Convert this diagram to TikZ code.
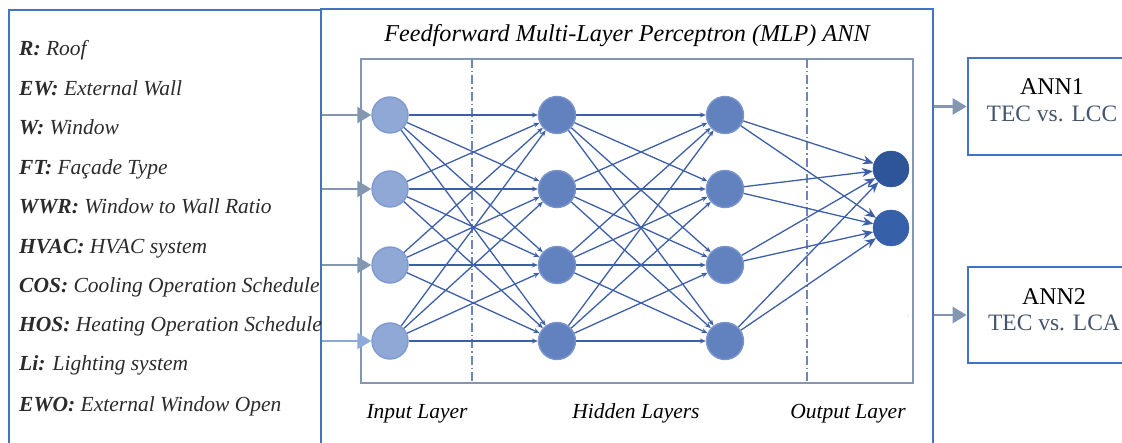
\documentclass[tikz,border=0pt]{standalone}
\usepackage{fontspec}
\setmainfont{Liberation Serif}[
  UprightFont={Liberation Serif},
  BoldFont={Liberation Serif Bold},
  ItalicFont={Liberation Serif Italic},
  BoldItalicFont={Liberation Serif Bold Italic}]
\usetikzlibrary{arrows.meta}

\definecolor{boxblue}{HTML}{4472C4}
\definecolor{framegray}{HTML}{8497B0}
\definecolor{feedlight}{HTML}{8EAADB}
\definecolor{inputfill}{HTML}{8FA8D6}
\definecolor{inputline}{HTML}{7F9ACF}
\definecolor{hiddenfill}{HTML}{6282BF}
\definecolor{hiddenline}{HTML}{7A95CB}
\definecolor{outfillA}{HTML}{2E5597}
\definecolor{outfillB}{HTML}{3660A8}
\definecolor{wire}{HTML}{3D5FA8}
\definecolor{divider}{HTML}{6E86BE}
\definecolor{slate}{HTML}{44546A}
\definecolor{desc}{HTML}{2B2B2B}

\tikzset{
  panel/.style={draw=boxblue, line width=2.6pt, inner sep=0pt},
  netframe/.style={draw=framegray, line width=1.6pt},
  neuronin/.style={circle, minimum size=36pt, inner sep=0pt, fill=inputfill, draw=inputline, line width=1.4pt},
  neuronhid/.style={circle, minimum size=37pt, inner sep=0pt, fill=hiddenfill, draw=hiddenline, line width=1.4pt},
  neuronout/.style={circle, minimum size=36pt, inner sep=0pt, draw=#1, fill=#1},
  wirehid/.style={draw=wire, line width=1.3pt, -{Stealth[length=6pt,width=5pt]}},
  wireout/.style={draw=wire, line width=1.3pt, -{Stealth[length=11pt,width=9pt]}},
  feed/.style={draw=#1, line width=2.6pt, -{Triangle[length=14pt,width=16pt]}},
  divline/.style={draw=divider, line width=1.5pt, dash pattern=on 9pt off 3pt on 1.5pt off 3pt},
  varline/.style={anchor=base west, font=\fontsize{21.5}{24}\selectfont\itshape, text=desc, inner sep=0pt},
  layerlabel/.style={anchor=base, font=\fontsize{21.5}{24}\selectfont\itshape, inner sep=0pt},
  annname/.style={anchor=base, font=\fontsize{24}{26}\selectfont, inner sep=0pt},
  anncomp/.style={anchor=base, font=\fontsize{23.5}{26}\selectfont, text=slate, inner sep=0pt},
}

\begin{document}
\begin{tikzpicture}[x=1pt, y=-1pt]
\useasboundingbox (0,0) rectangle (1122,443);
\clip (0,0) rectangle (1122,443);

% outer panels
\node[panel, minimum width=312pt, minimum height=434pt] (inbox) at (165,227) {};
\node[panel, minimum width=612pt, minimum height=435pt] (mlp) at (627,226.5) {};
\node[panel, minimum width=175pt, minimum height=97pt] (ann1) at (1055.5,106.5) {};
\node[panel, minimum width=175pt, minimum height=96pt] (ann2) at (1055.5,315) {};

% input variables
\node[varline] (v1)  at (19,56)  {\textbf{R:} Roof};
\node[varline] (v2)  at (19,96)  {\textbf{EW:} External Wall};
\node[varline] (v3)  at (19,135) {\textbf{W:} Window};
\node[varline] (v4)  at (19,175) {\textbf{FT:} Façade Type};
\node[varline] (v5)  at (19,214) {\textbf{WWR:} Window to Wall Ratio};
\node[varline] (v6)  at (19,254) {\textbf{HVAC:} HVAC system};
\node[varline] (v7)  at (19,293) {\textbf{COS:} Cooling Operation Schedule};
\node[varline] (v8)  at (19,332) {\textbf{HOS:} Heating Operation Schedule};
\node[varline] (v9)  at (19,371) {\textbf{Li:} Lighting system};
\node[varline] (v10) at (19,412) {\textbf{EWO:} External Window Open};

% network title and frame
\node[anchor=base, font=\fontsize{24.2}{26}\selectfont\itshape, inner sep=0pt] (title) at (627,42)
  {Feedforward Multi-Layer Perceptron (MLP) ANN};
\draw[netframe] (361,59) rectangle (913,383);
\coordinate (d1top) at (472,59);
\coordinate (d1bot) at (472,383);
\coordinate (d2top) at (807,59);
\coordinate (d2bot) at (807,383);
\draw[divline] (d1top) -- (d1bot);
\draw[divline] (d2top) -- (d2bot);

% neurons
\foreach \r/\y in {1/115, 2/189, 3/265, 4/341} {
  \node[neuronin]  (a\r) at (390,\y) {};
  \node[neuronhid] (b\r) at (557,\y) {};
  \node[neuronhid] (c\r) at (725,\y) {};
}
\node[neuronout=outfillA] (o1) at (891,169) {};
\node[neuronout=outfillB] (o2) at (891,228) {};

% weighted connections
\foreach \i in {1,...,4} {
  \foreach \j in {1,...,4} {
    \draw[wirehid] (a\i) -- (b\j);
    \draw[wirehid] (b\i) -- (c\j);
  }
  \draw[wireout] (c\i) -- (o1);
  \draw[wireout] (c\i) -- (o2);
}

\node[font=\fontsize{6}{6}\selectfont, text=divider, inner sep=0pt] (mark) at (908,316) {:};

% layer labels
\node[layerlabel] (lin)  at (417,419) {Input Layer};
\node[layerlabel] (lhid) at (636,419) {Hidden Layers};
\node[layerlabel] (lout) at (848,419) {Output Layer};

% feeds into the input layer
\draw[feed=framegray] (inbox.east |- a1) -- (a1);
\draw[feed=framegray] (inbox.east |- a2) -- (a2);
\draw[feed=framegray] (inbox.east |- a3) -- (a3);
\draw[feed=feedlight] (inbox.east |- a4) -- (a4);

% outputs to the two networks
\draw[feed=framegray] (mlp.east |- ann1.west) -- (ann1.west);
\draw[feed=framegray] (mlp.east |- ann2.west) -- (ann2.west);

% network names
\node[annname] (n1) at (1052,95)  {ANN1};
\node[anncomp] (t1) at (1052,122) {TEC vs. LCC};
\node[annname] (n2) at (1054,305) {ANN2};
\node[anncomp] (t2) at (1054,331) {TEC vs. LCA};
\end{tikzpicture}
\end{document}
